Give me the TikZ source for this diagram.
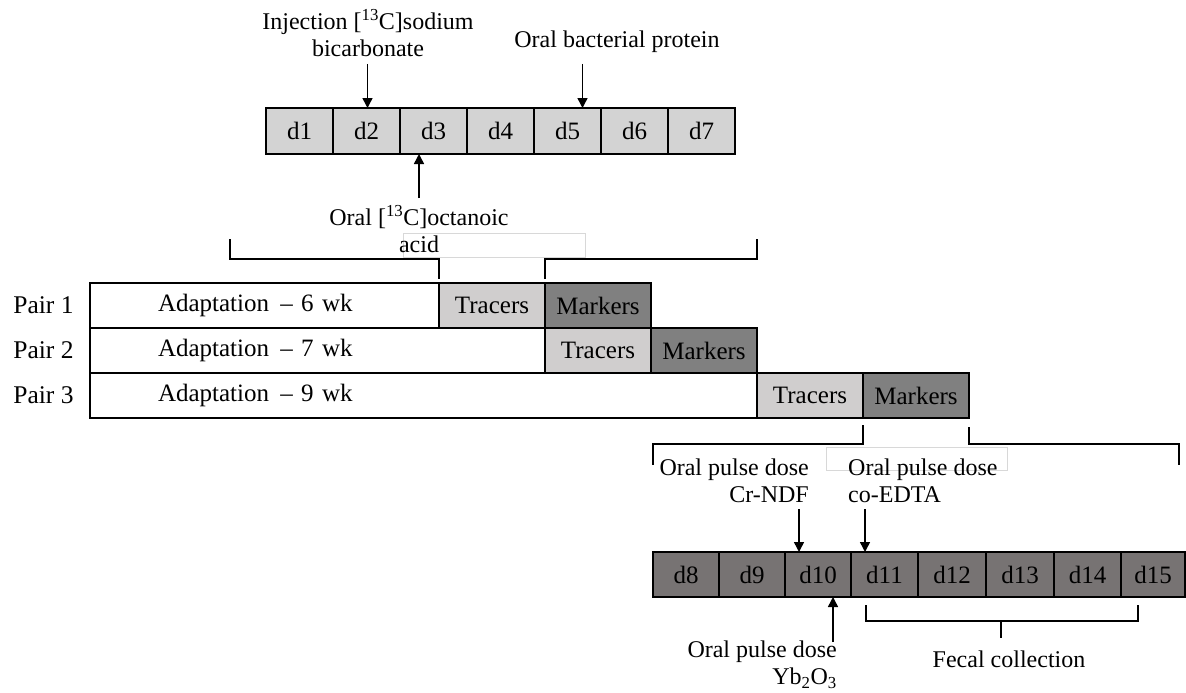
\documentclass[tikz,border=0pt]{standalone}
\usepackage{fontspec}
\setmainfont{Liberation Serif}
\usetikzlibrary{arrows.meta,calc}
\definecolor{lightcell}{RGB}{211,211,211}
\definecolor{tracercol}{RGB}{208,206,206}
\definecolor{markercol}{RGB}{128,128,128}
\definecolor{darkcell}{RGB}{119,115,115}
\definecolor{faintbox}{RGB}{216,216,216}
\tikzset{
  cellbase/.style={draw=black, line width=1.3pt, anchor=north west, inner sep=0pt, outer sep=0pt,
    font=\fontsize{25}{28}\selectfont},
  topcell/.style={cellbase, fill=lightcell, minimum width=67pt, minimum height=46pt},
  botcell/.style={cellbase, fill=darkcell, minimum height=45pt},
  rowbox/.style={cellbase, line width=1.6pt, fill=white, minimum height=45pt, align=left},
  tracerbox/.style={cellbase, line width=1.6pt, fill=tracercol, minimum width=106pt, minimum height=45pt},
  markerbox/.style={cellbase, line width=1.6pt, fill=markercol, minimum width=106pt, minimum height=45pt},
  pairlabel/.style={font=\fontsize{25.5}{28}\selectfont, inner sep=0pt},
  annot/.style={font=\fontsize{24}{27}\selectfont, inner sep=0pt},
  arr/.style={line width=1.5pt, -{Triangle[length=10pt,width=10pt]}},
  brk/.style={line width=1.5pt},
  faint/.style={draw=faintbox, line width=1pt}
}
\begin{document}
\begin{tikzpicture}[x=1pt,y=-1pt]
\useasboundingbox (0,0) rectangle (1186,693);

% faint text-box outlines
\draw[faint] (403,233) rectangle (585,257);
\draw[faint] (826,447) rectangle (1007,470);

% top day row
\foreach \i in {1,...,7}
  \node[topcell] (t\i) at ({266+67*(\i-1)},108) {d\i};
\draw[line width=1.8pt] (t1.north west) rectangle (t7.south east);

% annotations top
\node[annot, align=center] (inj) at (368,33) {Injection [\textsuperscript{13}C]sodium\\bicarbonate};
\node[annot] (bact) at (617,42) {Oral bacterial protein};
\node[annot, align=center] (oct) at (419,229.5) {Oral [\textsuperscript{13}C]octanoic\\acid};
\coordinate (injA) at (367.5,64);
\coordinate (bactA) at (582.5,64);
\coordinate (octA) at (419,198);
\draw[arr] (injA) -- (injA |- t2.north);
\draw[arr] (bactA) -- (bactA |- t5.north);
\draw[arr] (octA) -- (octA |- t3.south);

% rows
\node[rowbox, minimum width=349pt, text width=349pt] (a1) at (90,283) {\hspace*{68pt}Adaptation\hspace{0.45em}– 6 wk};
\node[tracerbox] (tr1) at (439,283) {Tracers};
\node[markerbox] (mk1) at (545,283) {Markers};
\node[rowbox, minimum width=455pt, text width=455pt] (a2) at (90,328) {\hspace*{68pt}Adaptation\hspace{0.45em}– 7 wk};
\node[tracerbox] (tr2) at (545,328) {Tracers};
\node[markerbox] (mk2) at (651,328) {Markers};
\node[rowbox, minimum width=667pt, text width=667pt] (a3) at (90,373) {\hspace*{68pt}Adaptation\hspace{0.45em}– 9 wk};
\node[tracerbox] (tr3) at (757,373) {Tracers};
\node[markerbox] (mk3) at (863,373) {Markers};

\node[pairlabel] (p1) at (43.5,305.5) {Pair 1};
\node[pairlabel] (p2) at (43.5,350.5) {Pair 2};
\node[pairlabel] (p3) at (43.5,395.5) {Pair 3};

% top bracket
\coordinate (tbL) at (230,239);
\coordinate (tbLc) at (230,259);
\coordinate (tbR) at (757,239);
\coordinate (tbRc) at (757,259);
\draw[brk] (tbL) -- (tbLc) -- (tbLc -| tr1.north west) -- ([yshift=4pt]tr1.north west);
\draw[brk] ([yshift=4pt]tr1.north east) -- (tr1.north east |- tbRc) -- (tbRc) -- (tbR);

% bottom bracket
\coordinate (bbL) at (653,465);
\coordinate (bbLc) at (653,444);
\coordinate (bbR) at (1179,465);
\coordinate (bbRc) at (1179,444);
\draw[brk] ([yshift=-7pt]mk3.south west) -- (mk3.south west |- bbLc) -- (bbLc) -- (bbL);
\draw[brk] ([yshift=-9pt]mk3.south east) -- (mk3.south east |- bbRc) -- (bbRc) -- (bbR);

% bottom day row
\foreach \n/\x/\w in {8/653/66, 9/719/66, 10/785/66, 11/851/67, 12/918/68, 13/986/68, 14/1054/67, 15/1121/64}
  \node[botcell, minimum width=\w pt] (b\n) at (\x,552) {d\n};
\draw[line width=1.8pt] (b8.north west) rectangle (b15.south east);

% bottom annotations
\node[annot, align=right, anchor=east] (crl) at (809,481) {Oral pulse dose\\Cr-NDF};
\node[annot, align=left, anchor=west] (col) at (848,481) {Oral pulse dose\\co-EDTA};
\node[annot, align=right, anchor=east] (ybl) at (837,665) {Oral pulse dose\\Yb\textsubscript{2}O\textsubscript{3}};
\node[annot] (fec) at (1009,659) {Fecal collection};
\coordinate (crA) at (799,509);
\coordinate (coA) at (865,509);
\coordinate (ybA) at (833,642);
\draw[arr] (crA) -- (crA |- b10.north);
\draw[arr] (coA) -- (coA |- b11.north);
\draw[arr] (ybA) -- (ybA |- b10.south);

% fecal bracket
\coordinate (fL) at (866,605);
\coordinate (fR) at (1138,605);
\coordinate (fT) at (1001,638);
\draw[brk] (fL) -- (fL |- 0,621) -- (fR |- 0,621) -- (fR);
\draw[brk] (fT |- 0,621) -- (fT);
\end{tikzpicture}
\end{document}
